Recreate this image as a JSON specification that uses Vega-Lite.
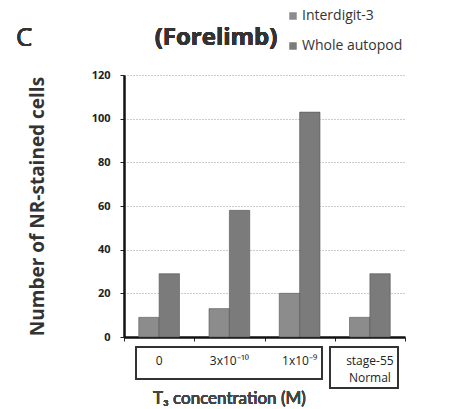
{
  "$schema": "https://vega.github.io/schema/vega-lite/v6.json",
  "autosize": "none",
  "width": 281,
  "height": 262,
  "padding": {"left": 124, "top": 75, "right": 71, "bottom": 72},
  "background": "white",
  "config": {
    "font": "Open Sans",
    "view": {"stroke": null}
  },
  "data": {
    "values": [
      {"group": "0", "series": "Interdigit-3", "value": 9},
      {"group": "0", "series": "Whole autopod", "value": 29},
      {"group": "3x10⁻¹⁰", "series": "Interdigit-3", "value": 13},
      {"group": "3x10⁻¹⁰", "series": "Whole autopod", "value": 58},
      {"group": "1x10⁻⁹", "series": "Interdigit-3", "value": 20},
      {"group": "1x10⁻⁹", "series": "Whole autopod", "value": 103},
      {"group": "stage-55 Normal", "series": "Interdigit-3", "value": 9},
      {"group": "stage-55 Normal", "series": "Whole autopod", "value": 29}
    ]
  },
  "resolve": {"scale": {"x": "independent"}, "axis": {"x": "independent"}},
  "layer": [
    {
      "mark": {"type": "bar", "stroke": "#555", "strokeWidth": 0.6},
      "encoding": {
        "x": {
          "field": "group", "type": "nominal",
          "sort": ["0", "3x10⁻¹⁰", "1x10⁻⁹", "stage-55 Normal"],
          "scale": {"paddingInner": 0.42, "paddingOuter": 0.21},
          "axis": {
            "title": null, "orient": "bottom", "domain": false, "ticks": false,
            "labelAngle": 0, "labelPadding": 18, "labelBaseline": "top",
            "labelFontSize": 12, "labelColor": "#222", "labelLineHeight": 17,
            "labelExpr": "datum.label == 'stage-55 Normal' ? ['stage-55', '  Normal'] : datum.label"
          }
        },
        "xOffset": {"field": "series", "type": "nominal", "sort": ["Interdigit-3", "Whole autopod"]},
        "y": {
          "field": "value", "type": "quantitative",
          "scale": {"domain": [0, 120], "nice": false},
          "axis": {
            "values": [0, 20, 40, 60, 80, 100, 120],
            "title": "Number of NR-stained cells",
            "titleFontSize": 19, "titleFontWeight": "bold", "titleColor": "#333",
            "titlePadding": 44,
            "labelFontSize": 11, "labelFontWeight": "bold", "labelColor": "#222",
            "labelPadding": 10, "tickSize": 4, "tickColor": "#222",
            "domainColor": "#111", "domainWidth": 2.5,
            "grid": true, "gridColor": "#999", "gridDash": [1, 2], "gridWidth": 1
          }
        },
        "color": {
          "field": "series", "type": "nominal",
          "scale": {"domain": ["Interdigit-3", "Whole autopod"], "range": ["#8c8c8c", "#7b7b7b"]},
          "legend": {
            "title": null, "orient": "none", "legendX": 162, "legendY": -66,
            "symbolType": "square", "symbolSize": 56, "symbolStrokeWidth": 0,
            "labelFontSize": 14, "labelColor": "#333", "rowPadding": 16, "labelOffset": 2
          }
        }
      }
    },
    {
      "layer": [
        {
          "mark": {"type": "rule", "opacity": 0},
          "encoding": {
            "x": {
              "datum": 0, "type": "quantitative",
              "scale": {"domain": [0, 4], "nice": false, "zero": false},
              "axis": {
                "orient": "bottom", "title": null, "values": [0, 1, 2, 3, 4], "labels": false,
                "domainColor": "#111", "domainWidth": 2.5, "tickColor": "#222", "tickSize": 4, "grid": false
              }
            }
          }
        },
        {
          "mark": {"type": "rect", "fill": null, "stroke": "#333", "strokeWidth": 1.2},
          "encoding": {
            "x": {"datum": 0.17, "type": "quantitative"},
            "x2": {"datum": 2.82},
            "y": {"datum": -4.6, "type": "quantitative"},
            "y2": {"datum": -19.2}
          }
        },
        {
          "mark": {"type": "rect", "fill": null, "stroke": "#333", "strokeWidth": 1.2},
          "encoding": {
            "x": {"datum": 2.93, "type": "quantitative"},
            "x2": {"datum": 3.9},
            "y": {"datum": -4.6, "type": "quantitative"},
            "y2": {"datum": -23.4}
          }
        },
        {
          "mark": {"type": "text", "text": "T₃ concentration (M)", "font": "Lato", "fontSize": 17, "fontWeight": "normal", "color": "#444", "align": "center", "baseline": "middle"},
          "encoding": {
            "x": {"datum": 1.5, "type": "quantitative"},
            "y": {"datum": -28.5, "type": "quantitative"}
          }
        },
        {
          "mark": {"type": "text", "text": "C", "fontSize": 26, "fontWeight": "normal", "color": "#333", "align": "center", "baseline": "middle"},
          "encoding": {
            "x": {"datum": -1.42, "type": "quantitative"},
            "y": {"datum": 137, "type": "quantitative"}
          }
        },
        {
          "mark": {"type": "text", "text": "(Forelimb)", "fontSize": 24, "fontWeight": "bold", "color": "#333", "align": "center", "baseline": "middle"},
          "encoding": {
            "x": {"datum": 1.31, "type": "quantitative"},
            "y": {"datum": 137, "type": "quantitative"}
          }
        }
      ]
    }
  ]
}
